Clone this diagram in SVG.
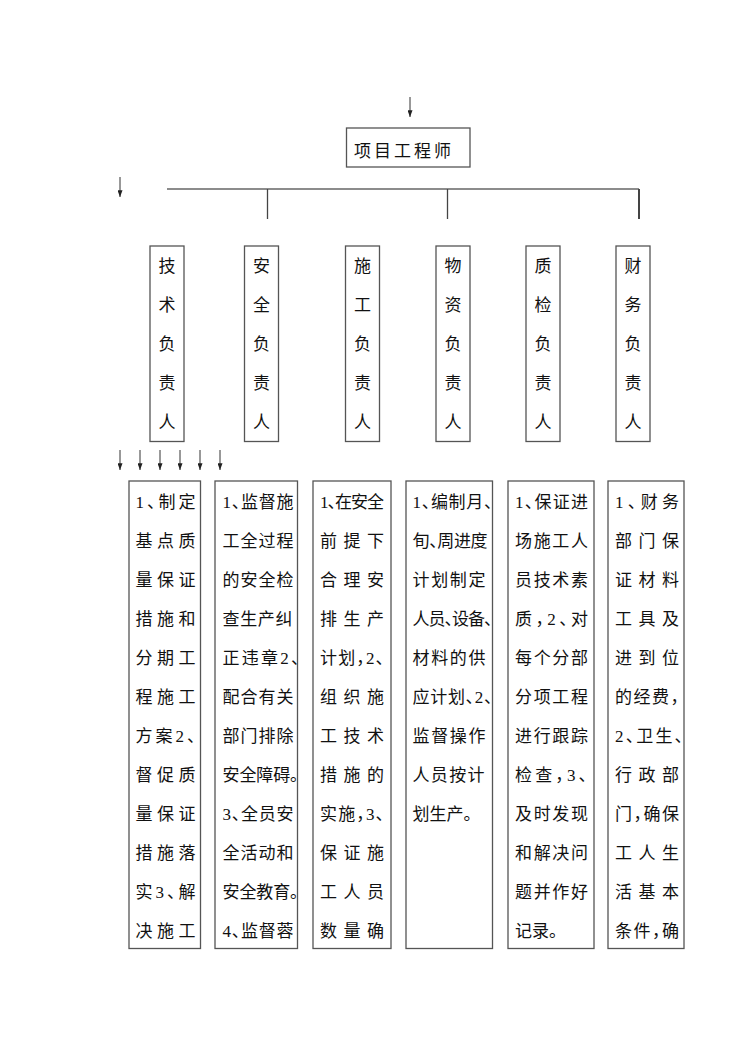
<svg xmlns="http://www.w3.org/2000/svg" width="744" height="1052" viewBox="0 0 744 1052">
<style>
.bg{fill:#fff}
.box{fill:#fff;stroke:#555;stroke-width:1.3}
.ln{stroke:#444;stroke-width:1.3;fill:none}
.arr{stroke:#333;stroke-width:1;fill:none}
.t{font-family:"Liberation Serif","Noto Sans CJK SC",serif;font-size:17px;fill:#111;font-feature-settings:"halt" 1}
.r{font-family:"Noto Sans CJK SC",sans-serif;font-size:17px;fill:#111;text-anchor:middle}
</style>
<defs>
<marker id="ah" viewBox="0 0 8 6" refX="8" refY="3" markerWidth="7" markerHeight="5" orient="auto" markerUnits="userSpaceOnUse">
<path d="M0,0 L8,3 L0,6 z" fill="#222"/>
</marker>
</defs>
<rect class="bg" x="0" y="0" width="744" height="1052"/>

<g id="connectors">
<line class="arr" x1="410" y1="97" x2="410" y2="117" marker-end="url(#ah)"/>
<line class="arr" x1="120" y1="177" x2="120" y2="197" marker-end="url(#ah)"/>
<line class="ln" x1="167" y1="189" x2="639" y2="189" style="stroke:#666"/>
<line class="ln" x1="267.5" y1="189" x2="267.5" y2="219"/>
<line class="ln" x1="447.5" y1="189" x2="447.5" y2="219"/>
<line class="ln" x1="639" y1="189" x2="639" y2="219" style="stroke-width:2"/>
<line class="arr" x1="120" y1="450" x2="120" y2="470" marker-end="url(#ah)"/>
<line class="arr" x1="140" y1="450" x2="140" y2="470" marker-end="url(#ah)"/>
<line class="arr" x1="160" y1="450" x2="160" y2="470" marker-end="url(#ah)"/>
<line class="arr" x1="180" y1="450" x2="180" y2="470" marker-end="url(#ah)"/>
<line class="arr" x1="200" y1="450" x2="200" y2="470" marker-end="url(#ah)"/>
<line class="arr" x1="220" y1="450" x2="220" y2="470" marker-end="url(#ah)"/>
</g>

<g id="node-engineer">
<rect class="box" x="346.5" y="128" width="123.5" height="39"/>
<text class="t" x="354" y="156.5" textLength="97" lengthAdjust="spacing">项目工程师</text>
</g>

<g id="node-tech">
<rect class="box" x="150" y="246" width="34" height="195.5"/>
<text class="r" x="167" y="271.5">技</text><text class="r" x="167" y="310.5">术</text><text class="r" x="167" y="349.5">负</text><text class="r" x="167" y="388.5">责</text><text class="r" x="167" y="427.5">人</text>
</g>
<g id="node-safety">
<rect class="box" x="244.5" y="246" width="34" height="195.5"/>
<text class="r" x="261.5" y="271.5">安</text><text class="r" x="261.5" y="310.5">全</text><text class="r" x="261.5" y="349.5">负</text><text class="r" x="261.5" y="388.5">责</text><text class="r" x="261.5" y="427.5">人</text>
</g>
<g id="node-construction">
<rect class="box" x="345.5" y="246" width="34" height="195.5"/>
<text class="r" x="362.5" y="271.5">施</text><text class="r" x="362.5" y="310.5">工</text><text class="r" x="362.5" y="349.5">负</text><text class="r" x="362.5" y="388.5">责</text><text class="r" x="362.5" y="427.5">人</text>
</g>
<g id="node-material">
<rect class="box" x="436" y="246" width="34" height="195.5"/>
<text class="r" x="453" y="271.5">物</text><text class="r" x="453" y="310.5">资</text><text class="r" x="453" y="349.5">负</text><text class="r" x="453" y="388.5">责</text><text class="r" x="453" y="427.5">人</text>
</g>
<g id="node-quality">
<rect class="box" x="526" y="246" width="34" height="195.5"/>
<text class="r" x="543" y="271.5">质</text><text class="r" x="543" y="310.5">检</text><text class="r" x="543" y="349.5">负</text><text class="r" x="543" y="388.5">责</text><text class="r" x="543" y="427.5">人</text>
</g>
<g id="node-finance">
<rect class="box" x="616" y="246" width="34" height="195.5"/>
<text class="r" x="633" y="271.5">财</text><text class="r" x="633" y="310.5">务</text><text class="r" x="633" y="349.5">负</text><text class="r" x="633" y="388.5">责</text><text class="r" x="633" y="427.5">人</text>
</g>

<g id="duty-tech">
<rect class="box" x="129" y="481" width="71.5" height="467.5"/>
<text class="t" x="135.5" y="508" textLength="60" lengthAdjust="spacing">1、制定</text>
<text class="t" x="135.5" y="547" textLength="60" lengthAdjust="spacing">基点质</text>
<text class="t" x="135.5" y="586" textLength="60" lengthAdjust="spacing">量保证</text>
<text class="t" x="135.5" y="625" textLength="60" lengthAdjust="spacing">措施和</text>
<text class="t" x="135.5" y="664" textLength="60" lengthAdjust="spacing">分期工</text>
<text class="t" x="135.5" y="703" textLength="60" lengthAdjust="spacing">程施工</text>
<text class="t" x="135.5" y="742" textLength="60" lengthAdjust="spacing">方案2、</text>
<text class="t" x="135.5" y="781" textLength="60" lengthAdjust="spacing">督促质</text>
<text class="t" x="135.5" y="820" textLength="60" lengthAdjust="spacing">量保证</text>
<text class="t" x="135.5" y="859" textLength="60" lengthAdjust="spacing">措施落</text>
<text class="t" x="135.5" y="898" textLength="60" lengthAdjust="spacing">实3、解</text>
<text class="t" x="135.5" y="937" textLength="60" lengthAdjust="spacing">决施工</text>
</g>

<g id="duty-safety">
<rect class="box" x="215" y="481" width="82.5" height="467.5"/>
<text class="t" x="222.5" y="508" textLength="71" lengthAdjust="spacing">1、监督施</text>
<text class="t" x="222.5" y="547" textLength="71" lengthAdjust="spacing">工全过程</text>
<text class="t" x="222.5" y="586" textLength="71" lengthAdjust="spacing">的安全检</text>
<text class="t" x="222.5" y="625" textLength="70" lengthAdjust="spacing">查生产纠</text>
<text class="t" x="222.5" y="664" textLength="77" lengthAdjust="spacing">正违章2、</text>
<text class="t" x="222.5" y="703" textLength="71" lengthAdjust="spacing">配合有关</text>
<text class="t" x="222.5" y="742" textLength="71" lengthAdjust="spacing">部门排除</text>
<text class="t" x="222.5" y="781" textLength="76" lengthAdjust="spacing">安全障碍。</text>
<text class="t" x="222.5" y="820" textLength="71" lengthAdjust="spacing">3、全员安</text>
<text class="t" x="222.5" y="859" textLength="71" lengthAdjust="spacing">全活动和</text>
<text class="t" x="222.5" y="898" textLength="76" lengthAdjust="spacing">安全教育。</text>
<text class="t" x="222.5" y="937" textLength="71" lengthAdjust="spacing">4、监督蓉</text>
</g>

<g id="duty-construction">
<rect class="box" x="313" y="481" width="78" height="467.5"/>
<text class="t" x="320" y="508" textLength="64" lengthAdjust="spacing">1、在安全</text>
<text class="t" x="320" y="547" textLength="64" lengthAdjust="spacing">前提下</text>
<text class="t" x="320" y="586" textLength="64" lengthAdjust="spacing">合理安</text>
<text class="t" x="320" y="625" textLength="64" lengthAdjust="spacing">排生产</text>
<text class="t" x="320" y="664" textLength="64" lengthAdjust="spacing">计划，2、</text>
<text class="t" x="320" y="703" textLength="64" lengthAdjust="spacing">组织施</text>
<text class="t" x="320" y="742" textLength="64" lengthAdjust="spacing">工技术</text>
<text class="t" x="320" y="781" textLength="64" lengthAdjust="spacing">措施的</text>
<text class="t" x="320" y="820" textLength="64" lengthAdjust="spacing">实施，3、</text>
<text class="t" x="320" y="859" textLength="64" lengthAdjust="spacing">保证施</text>
<text class="t" x="320" y="898" textLength="64" lengthAdjust="spacing">工人员</text>
<text class="t" x="320" y="937" textLength="64" lengthAdjust="spacing">数量确</text>
</g>

<g id="duty-material">
<rect class="box" x="406" y="481" width="86.5" height="467.5"/>
<text class="t" x="412.5" y="508" textLength="80" lengthAdjust="spacing">1、编制月、</text>
<text class="t" x="412.5" y="547" textLength="75" lengthAdjust="spacing">旬、周进度</text>
<text class="t" x="412.5" y="586" textLength="73" lengthAdjust="spacing">计划制定</text>
<text class="t" x="412.5" y="625" textLength="80" lengthAdjust="spacing">人员、设备、</text>
<text class="t" x="412.5" y="664" textLength="73" lengthAdjust="spacing">材料的供</text>
<text class="t" x="412.5" y="703" textLength="80" lengthAdjust="spacing">应计划、2、</text>
<text class="t" x="412.5" y="742" textLength="73" lengthAdjust="spacing">监督操作</text>
<text class="t" x="412.5" y="781" textLength="72" lengthAdjust="spacing">人员按计</text>
<text class="t" x="412.5" y="820">划生产。</text>
</g>

<g id="duty-quality">
<rect class="box" x="508" y="481" width="86" height="467.5"/>
<text class="t" x="515" y="508" textLength="73" lengthAdjust="spacing">1、保证进</text>
<text class="t" x="515" y="547" textLength="73" lengthAdjust="spacing">场施工人</text>
<text class="t" x="515" y="586" textLength="73" lengthAdjust="spacing">员技术素</text>
<text class="t" x="515" y="625" textLength="73" lengthAdjust="spacing">质，2、对</text>
<text class="t" x="515" y="664" textLength="73" lengthAdjust="spacing">每个分部</text>
<text class="t" x="515" y="703" textLength="73" lengthAdjust="spacing">分项工程</text>
<text class="t" x="515" y="742" textLength="73" lengthAdjust="spacing">进行跟踪</text>
<text class="t" x="515" y="781" textLength="72" lengthAdjust="spacing">检查，3、</text>
<text class="t" x="515" y="820" textLength="73" lengthAdjust="spacing">及时发现</text>
<text class="t" x="515" y="859" textLength="73" lengthAdjust="spacing">和解决问</text>
<text class="t" x="515" y="898" textLength="73" lengthAdjust="spacing">题并作好</text>
<text class="t" x="515" y="937">记录。</text>
</g>

<g id="duty-finance">
<rect class="box" x="608" y="481" width="76" height="467.5"/>
<text class="t" x="615" y="508" textLength="64" lengthAdjust="spacing">1、财务</text>
<text class="t" x="615" y="547" textLength="64" lengthAdjust="spacing">部门保</text>
<text class="t" x="615" y="586" textLength="64" lengthAdjust="spacing">证材料</text>
<text class="t" x="615" y="625" textLength="64" lengthAdjust="spacing">工具及</text>
<text class="t" x="615" y="664" textLength="64" lengthAdjust="spacing">进到位</text>
<text class="t" x="615" y="703" textLength="64" lengthAdjust="spacing">的经费，</text>
<text class="t" x="615" y="742" textLength="68" lengthAdjust="spacing">2、卫生、</text>
<text class="t" x="615" y="781" textLength="64" lengthAdjust="spacing">行政部</text>
<text class="t" x="615" y="820" textLength="64" lengthAdjust="spacing">门，确保</text>
<text class="t" x="615" y="859" textLength="64" lengthAdjust="spacing">工人生</text>
<text class="t" x="615" y="898" textLength="64" lengthAdjust="spacing">活基本</text>
<text class="t" x="615" y="937" textLength="64" lengthAdjust="spacing">条件，确</text>
</g>
</svg>
